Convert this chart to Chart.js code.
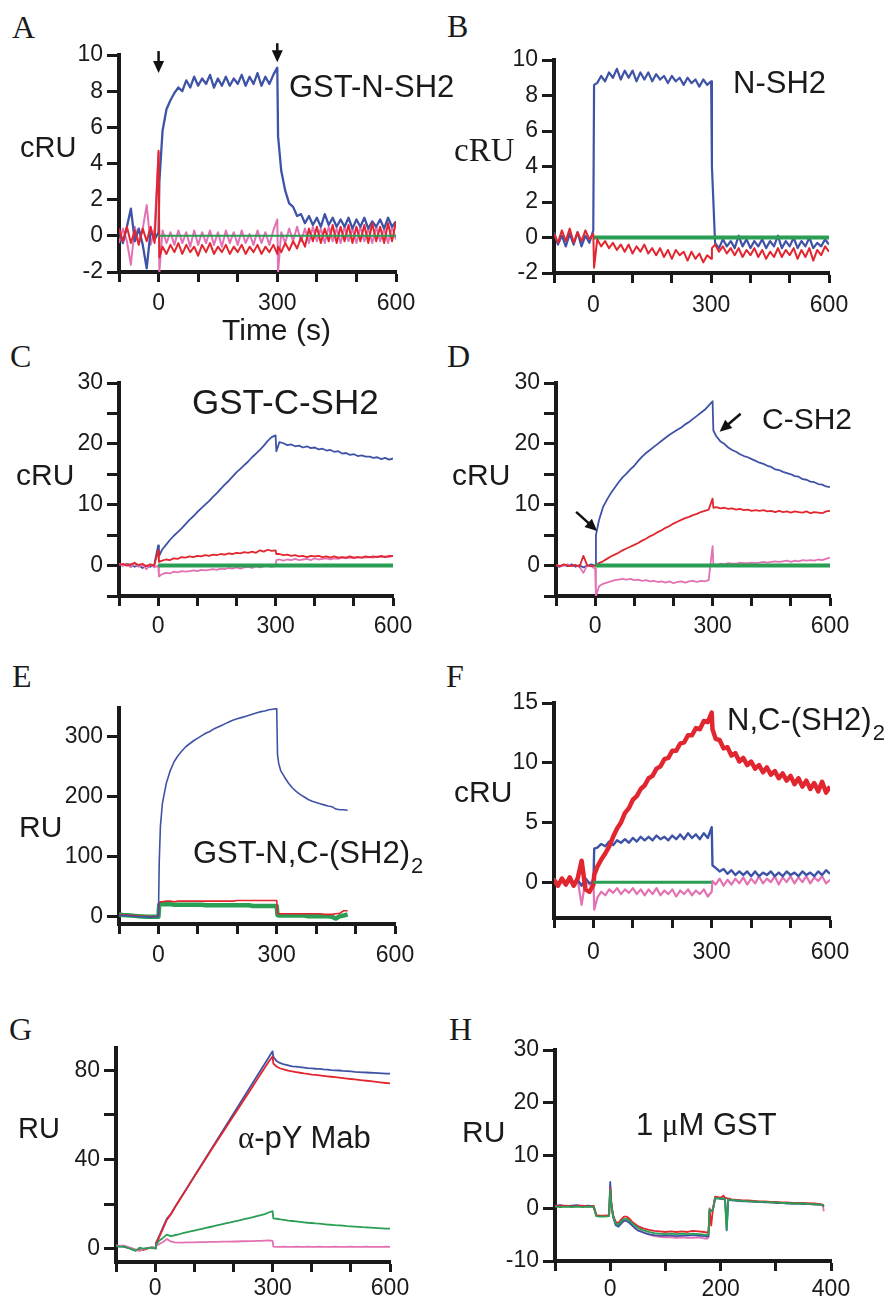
<!DOCTYPE html>
<html>
<head>
<meta charset="utf-8">
<script src="https://cdn.jsdelivr.net/npm/chart.js@4.4.0/dist/chart.umd.min.js"></script>
<style>
  body { margin: 0; background: #fff; width: 888px; height: 1298px; position: relative; overflow: hidden; }
  canvas { position: absolute; }
  .t { position: absolute; white-space: nowrap; line-height: 1; color: #1a1a1a; }
</style>
</head>
<body>
<script>
// ---- axis ticks ----
const xTicks700 = [-100, 0, 100, 200, 300, 400, 500, 600];
const xLabels700 = [0, 300, 600];
const xTicksH = [-100, 0, 100, 200, 300, 400];
const xLabelsH = [0, 200, 400];
const yTicksAB = [-2, 0, 2, 4, 6, 8, 10];
const yTicksCD = [-5, 0, 5, 10, 15, 20, 25, 30];
const yLabelsCD = [0, 10, 20, 30];
const yTicksE = [0, 100, 200, 300];
const yTicksF = [0, 5, 10, 15];
const yTicksG = [0, 20, 40, 60, 80];
const yLabelsG = [0, 40, 80];
const yTicksH = [-10, 0, 10, 20, 30];

// ---- time (s) ----
const tN = [-100,-90,-80,-70,-60,-50,-40,-30,-20,-10,
  0,2,10,20,30,40,50,60,70,80,
  90,100,110,120,130,140,150,160,170,180,
  190,200,210,220,230,240,250,260,270,280,
  290,300,302,310,320,330,340,350,360,370,
  380,390,400,410,420,430,440,450,460,470,
  480,490,500,510,520,530,540,550,560,570,
  580,590,600];
const tE = [-100,-90,-80,-70,-60,-50,-40,-30,-20,-10,
  0,2,5,10,20,30,40,50,60,70,
  80,90,100,110,120,130,140,150,160,170,
  180,190,200,210,220,230,240,250,260,270,
  280,290,300,302,305,310,320,330,340,350,
  360,370,380,390,400,410,420,430,440,450,
  460,470,480];
const tH = [-100,-90,-80,-70,-60,-50,-40,-30,-25,-20,
  -10,-2,0,2,5,10,15,20,25,30,
  35,40,45,50,60,70,80,90,100,110,
  120,130,140,150,160,170,175,178,180,183,
  186,190,195,200,205,208,211,214,217,220,
  230,240,250,260,270,280,290,300,310,320,
  330,340,350,360,370,380,385,387];
const tGreen600 = [0, 600];
const tGreen300 = [0, 300];
const zeroLine = [0, 0];

// ---- A: GST-N-SH2 (cRU) ----
const aBlue = [0.3,-0.4,0.5,1.5,-0.3,0.4,-0.5,-1.8,0.3,-0.2,
  0.2,3.0,5.8,7.0,7.5,7.9,8.2,8.0,8.6,8.2,
  8.8,8.3,8.7,8.4,8.9,8.2,8.7,8.3,8.8,8.3,
  8.7,8.4,8.9,8.3,8.8,8.4,9.0,8.3,8.8,8.4,
  8.9,9.3,5.5,3.6,2.5,1.8,1.6,1.1,1.2,0.7,
  1.1,0.6,1.0,0.5,1.2,0.6,1.0,0.5,0.9,0.5,
  1.0,0.4,0.9,0.5,1.0,0.4,0.8,0.5,0.9,0.4,
  1.0,0.5,0.8];
const aRed = [0.4,-0.3,0.5,-0.4,0.3,-0.5,0.4,-0.3,0.5,-0.4,
  4.7,-1.2,-0.6,-1.0,-0.5,-0.9,-0.4,-1.0,-0.5,-0.9,
  -0.6,-1.1,-0.5,-0.9,-0.4,-1.0,-0.6,-0.9,-0.5,-1.0,
  -0.6,-0.9,-0.5,-1.0,-0.6,-0.9,-0.5,-1.0,-0.6,-0.9,
  -0.5,-1.0,-0.6,-0.9,-0.4,-0.8,-0.3,-0.7,-0.1,-0.6,
  0.4,-0.3,0.5,-0.4,0.4,-0.3,0.6,-0.4,0.5,-0.3,
  0.6,-0.4,0.5,-0.3,0.6,-0.4,0.7,-0.3,0.5,-0.4,
  0.7,-0.3,0.8];
const aPink = [-0.4,0.4,-0.3,-1.6,0.5,-0.4,0.4,1.7,-0.5,0.4,
  4.6,-2.0,0.3,-0.4,0.2,-0.5,0.3,-0.4,0.2,-0.6,
  0.3,-0.5,0.2,-0.4,0.3,-0.5,0.2,-0.6,0.3,-0.4,
  0.2,-0.5,0.3,-0.4,0.1,-0.5,0.3,-0.4,0.2,-0.5,
  0.3,0.9,-2.0,0.2,-0.4,0.4,-0.3,0.5,-0.3,0.4,
  -0.4,0.5,-0.3,0.4,-0.4,0.5,-0.3,0.4,-0.4,0.5,
  -0.3,0.4,-0.4,0.5,-0.3,0.4,-0.4,0.5,-0.3,0.4,
  -0.4,0.5,-0.2];

// ---- B: N-SH2 (cRU) ----
const bBlue = [0.3,-0.4,0.1,-0.5,0.2,-0.4,0.3,-0.5,0.1,-0.3,
  0.4,8.6,8.7,9.1,8.8,9.3,9.0,9.5,8.9,9.4,
  9.0,9.4,8.8,9.3,8.9,9.3,8.8,9.2,8.9,9.1,
  8.7,9.1,8.8,9.0,8.6,9.0,8.7,8.9,8.5,8.9,
  8.6,8.8,4.0,-0.3,-0.6,-0.1,-0.5,-0.2,-0.6,0.1,
  -0.5,-0.1,-0.6,-0.2,-0.5,-0.1,-0.6,-0.2,-0.5,0.1,
  -0.6,-0.2,-0.5,0.0,-0.6,-0.2,-0.5,0.0,-0.6,-0.3,
  -0.5,-0.1,-0.4];
const bRed = [0.2,-0.3,0.4,-0.2,0.5,-0.3,0.3,-0.2,0.4,-0.1,
  0.2,-1.7,-0.1,-0.5,-0.2,-0.6,-0.3,-0.7,-0.4,-0.8,
  -0.4,-0.9,-0.5,-0.8,-0.4,-0.9,-0.6,-1.0,-0.6,-1.1,
  -0.7,-1.2,-0.7,-1.0,-0.8,-1.3,-0.8,-1.2,-0.9,-1.4,
  -1.0,-1.2,-0.6,-0.4,-0.8,-0.5,-0.9,-0.6,-1.0,-0.6,
  -1.1,-0.7,-1.0,-0.6,-1.1,-0.7,-1.2,-0.8,-1.1,-0.6,
  -1.1,-0.7,-1.0,-0.6,-1.2,-0.7,-1.1,-0.6,-1.3,-0.7,
  -1.0,-0.5,-0.8];

// ---- C: GST-C-SH2 (cRU) ----
const cBlue = [0.2,0.0,0.3,0.1,-0.2,0.1,-0.4,0.0,-0.2,0.1,
  3.3,1.5,2.6,3.4,4.2,4.9,5.5,6.1,6.8,7.5,
  8.1,8.8,9.4,10.0,10.6,11.3,11.9,12.6,13.3,13.9,
  14.6,15.3,15.9,16.5,17.1,17.8,18.4,19.0,19.7,20.5,
  21.1,21.4,18.8,20.3,20.1,19.8,19.9,19.6,19.7,19.4,
  19.6,19.3,19.4,19.1,19.2,18.9,19.0,18.7,18.8,18.4,
  18.5,18.2,18.3,18.0,18.1,17.9,17.9,17.7,17.8,17.5,
  17.7,17.4,17.6];
const cRed = [0.1,0.3,0.0,0.2,0.4,0.1,0.3,-0.1,0.2,0.0,
  2.5,0.6,0.8,1.0,0.9,1.2,1.1,1.4,1.3,1.5,
  1.4,1.6,1.5,1.7,1.6,1.8,1.7,1.9,1.8,2.0,
  1.9,2.1,2.0,2.2,2.1,2.3,2.1,2.5,2.3,2.6,
  2.4,2.5,1.9,1.9,1.7,1.8,1.6,1.7,1.5,1.6,
  1.4,1.6,1.5,1.6,1.4,1.5,1.3,1.5,1.3,1.4,
  1.3,1.5,1.3,1.4,1.3,1.5,1.4,1.5,1.4,1.6,
  1.4,1.6,1.6];
const cPink = [0.3,0.0,0.2,-0.3,0.5,-0.2,0.1,-0.6,0.2,-0.3,
  0.0,-1.8,-1.4,-1.2,-1.3,-1.0,-1.1,-0.9,-1.0,-0.9,
  -0.8,-0.9,-0.7,-0.8,-0.7,-0.6,-0.7,-0.5,-0.6,-0.4,
  -0.5,-0.3,-0.5,-0.3,-0.2,-0.4,-0.1,-0.3,-0.1,0.0,
  -0.2,-0.1,0.9,1.0,0.8,1.0,0.9,1.1,0.9,1.0,
  1.1,0.9,1.2,1.0,1.1,1.2,1.0,1.2,1.1,1.3,
  1.2,1.3,1.2,1.4,1.3,1.3,1.4,1.3,1.5,1.4,
  1.5,1.4,1.6];

// ---- D: C-SH2 (cRU) ----
const dBlue = [0.0,-0.2,0.1,-0.1,0.2,-0.2,0.1,-0.3,0.0,0.2,
  0.0,5.0,7.5,9.6,10.8,11.9,12.8,13.7,14.5,15.1,
  15.8,16.4,17.2,17.9,18.5,19.0,19.5,20.0,20.5,21.0,
  21.5,21.9,22.3,22.7,23.2,23.6,24.1,24.6,25.1,25.6,
  26.3,27.0,22.2,21.2,20.4,20.0,19.4,19.0,18.7,18.3,
  18.0,17.8,17.5,17.2,16.9,16.7,16.4,16.2,15.8,15.7,
  15.4,15.2,15.0,14.7,14.6,14.2,14.1,13.8,13.7,13.4,
  13.3,13.0,12.9];
const dRed = [0.1,-0.1,0.2,0.0,-0.1,0.1,-0.2,1.6,0.0,-0.1,
  0.0,0.1,0.4,0.7,1.1,1.5,1.8,2.1,2.5,2.8,
  3.1,3.4,3.7,4.1,4.4,4.8,5.1,5.5,5.8,6.2,
  6.5,6.9,7.2,7.5,7.8,8.0,8.3,8.5,8.8,9.0,
  9.2,11.0,9.5,9.6,9.4,9.5,9.3,9.4,9.2,9.3,
  9.1,9.2,9.0,9.1,9.0,9.1,8.9,9.0,8.8,9.0,
  8.8,8.9,8.7,8.9,8.8,8.7,8.9,8.6,8.8,8.7,
  8.6,8.9,9.0];
const dPink = [0.1,-0.1,0.0,0.2,-0.1,0.1,-0.2,-1.2,0.1,-0.1,
  -0.5,-5.0,-3.4,-3.0,-2.8,-2.6,-2.4,-2.3,-2.2,-2.3,
  -2.2,-2.4,-2.3,-2.5,-2.4,-2.6,-2.5,-2.7,-2.6,-2.8,
  -2.6,-2.9,-2.7,-2.6,-2.8,-2.6,-2.5,-2.7,-2.5,-2.6,
  -2.4,3.2,0.2,0.1,0.3,0.2,0.4,0.3,0.3,0.5,
  0.4,0.4,0.5,0.4,0.5,0.6,0.5,0.6,0.7,0.6,
  0.7,0.8,0.6,0.8,0.7,0.9,0.8,0.9,0.8,1.0,
  0.9,1.1,1.3];

// ---- E: GST-N,C-(SH2)2 (RU) ----
const eBlue = [3,2,2,1,1,0,0,0,-1,0,
  0,90,150,188,222,243,258,268,276,283,
  288,293,297,301,305,308,312,315,318,321,
  324,327,329,331,333,335,337,339,341,342,
  344,345,346,270,255,243,232,222,214,208,
  203,199,195,192,190,188,186,184,183,179,
  178,178,177];
const eRed = [4,3,3,2,2,1,1,1,0,1,
  1,23,25,25,26,26,25,26,26,26,
  26,26,26,26,26,26,26,26,26,26,
  26,26,27,27,27,27,27,27,27,27,
  27,27,27,6,5,5,5,5,5,5,
  5,5,5,5,5,5,4,4,4,5,
  6,10,10];
const eGreen = [4,3,2.5,2,1.5,1,0.5,0,0,0,
  0,20,22,21,21,21,20,20,20,20,
  20,20,20,20,19,19,19,19,19,19,
  19,19,19,19,19,19,18,18,18,18,
  18,18,18,3,2,2,2,2,2,2,
  2,2,1,1,1,1,1,1,0,-3,
  1,2,4];

// ---- F: N,C-(SH2)2 (cRU) ----
const fRed = [0.2,-0.3,0.3,-0.2,0.4,-0.3,0.3,1.8,-0.6,-0.8,
  -0.2,0.6,1.3,1.9,2.4,3.0,3.8,4.5,5.0,5.8,
  6.2,6.9,7.2,7.8,8.1,8.7,8.9,9.5,9.7,10.3,
  10.4,11.0,11.0,11.6,11.7,12.3,12.3,12.9,12.8,13.5,
  13.4,14.2,12.8,12.0,11.9,11.2,11.3,10.6,10.8,10.1,
  10.4,9.8,10.1,9.5,9.8,9.2,9.6,9.0,9.3,8.7,
  9.1,8.5,8.9,8.2,8.7,8.0,8.5,7.8,8.3,7.6,
  8.4,7.5,8.0];
const fBlue = [0.2,-0.3,0.1,-0.2,0.3,-0.1,0.2,-0.3,0.3,-0.1,
  0.0,2.8,2.9,3.2,3.0,3.4,3.1,3.5,3.3,3.6,
  3.3,3.7,3.4,3.8,3.5,3.8,3.5,3.9,3.6,3.8,
  3.5,3.9,3.6,4.0,3.6,4.1,3.7,4.0,3.6,4.1,
  3.7,4.6,1.4,1.2,0.9,1.1,0.7,1.0,0.6,0.9,
  0.6,0.9,0.5,0.9,0.5,0.8,0.6,0.9,0.5,0.8,
  0.5,0.9,0.6,0.8,0.5,0.9,0.6,0.8,0.5,0.9,
  0.6,1.0,0.7];
const fPink = [0.3,-0.2,0.2,-0.3,0.3,-0.2,0.2,-1.9,0.2,-0.2,
  0.3,-2.3,-1.3,-0.8,-1.1,-0.6,-0.9,-0.5,-1.0,-0.6,
  -0.9,-0.5,-1.0,-0.6,-1.1,-0.6,-1.0,-0.5,-1.1,-0.7,
  -1.0,-0.6,-1.2,-0.7,-1.0,-0.6,-1.1,-0.7,-1.0,-0.6,
  -1.2,-0.8,0.1,-0.2,0.3,-0.3,0.2,-0.2,0.3,-0.1,
  0.4,-0.2,0.3,-0.1,0.5,-0.1,0.3,0.0,0.5,-0.2,
  0.4,0.0,0.5,-0.1,0.4,0.0,0.5,-0.1,0.4,0.1,
  0.5,-0.1,0.2];

// ---- G: alpha-pY Mab (RU) ----
const gBlue = [1.0,1.2,0.8,0.5,-0.3,-0.5,-0.8,-0.5,0.2,0.3,
  0.5,2.5,5.5,9.5,13.5,15.5,18.5,21.3,24.1,26.9,
  29.7,32.5,35.3,38.1,40.9,43.7,46.5,49.3,52.1,54.9,
  57.7,60.5,63.3,66.1,68.9,71.7,74.5,77.3,80.1,82.9,
  85.7,88.5,86.0,84.2,83.2,82.6,82.2,81.8,81.6,81.4,
  81.2,81.0,80.9,80.7,80.6,80.4,80.3,80.1,80.0,79.9,
  79.7,79.6,79.5,79.3,79.2,79.1,79.0,78.9,78.8,78.7,
  78.6,78.5,78.5];
const gRed = [1.5,1.0,1.2,0.4,0.0,-0.8,-0.4,-0.6,0.0,0.5,
  0.3,2.2,5.0,9.0,13.0,15.3,18.3,21.1,23.9,26.7,
  29.5,32.3,35.0,37.8,40.5,43.3,46.0,48.7,51.4,54.1,
  56.8,59.5,62.2,64.9,67.6,70.3,73.0,75.7,78.4,81.1,
  83.8,86.2,83.0,81.7,80.8,80.3,79.8,79.5,79.2,78.9,
  78.6,78.4,78.1,77.9,77.7,77.5,77.3,77.1,76.9,76.7,
  76.5,76.3,76.1,75.9,75.7,75.5,75.3,75.1,74.9,74.7,
  74.5,74.3,74.1];
const gGreen = [1.2,0.8,1.0,0.3,-0.2,-1.0,0.4,0.0,0.2,0.4,
  0.0,1.5,3.5,4.8,6.3,5.6,6.0,6.4,6.9,7.3,
  7.7,8.1,8.5,8.9,9.3,9.7,10.1,10.5,10.9,11.3,
  11.7,12.1,12.5,12.9,13.3,13.7,14.1,14.6,15.0,15.5,
  16.2,16.8,13.6,13.4,13.1,12.9,12.6,12.4,12.2,12.0,
  11.8,11.6,11.5,11.3,11.2,11.0,10.8,10.7,10.5,10.4,
  10.3,10.1,10.0,9.9,9.8,9.6,9.5,9.4,9.3,9.2,
  9.1,9.0,9.0];
const gPink = [1.5,1.2,1.3,0.8,0.2,-0.5,-1.0,-0.2,0.3,0.5,
  0.3,1.2,2.0,3.0,4.3,3.2,2.8,2.7,2.7,2.8,
  2.8,2.8,2.9,2.9,2.9,3.0,3.0,3.0,3.1,3.1,
  3.1,3.2,3.2,3.3,3.3,3.4,3.4,3.5,3.5,3.6,
  3.7,3.5,0.9,0.8,0.8,0.9,0.8,0.8,0.9,0.8,
  0.8,0.9,0.8,0.8,0.9,0.8,0.8,0.8,0.9,0.8,
  0.8,0.8,0.9,0.8,0.8,0.8,0.9,0.8,0.8,0.8,
  0.8,0.9,0.8];

// ---- H: 1 uM GST (RU) ----
const hRed = [0.5,0.4,0.5,0.3,0.4,0.5,0.3,0.4,-1.3,-1.4,
  -1.4,-1.3,3.8,0.8,-1.2,-2.6,-2.8,-2.1,-1.6,-1.6,
  -2.0,-2.6,-3.0,-3.4,-3.8,-4.1,-4.3,-4.4,-4.5,-4.4,
  -4.5,-4.4,-4.5,-4.3,-4.4,-4.5,-4.6,-4.4,-0.3,-3.3,
  -0.2,2.2,2.1,2.0,2.4,2.0,1.9,1.8,1.8,1.7,
  1.6,1.5,1.5,1.4,1.3,1.3,1.2,1.2,1.1,1.1,
  1.0,1.0,1.0,0.9,0.9,0.8,0.7,0.5];
const hGreen = [0.3,0.2,0.3,0.2,0.3,0.2,0.3,0.2,-1.5,-1.6,
  -1.6,-1.5,3.5,0.7,-1.4,-2.9,-3.1,-2.5,-2.0,-2.0,
  -2.4,-2.9,-3.3,-3.7,-4.2,-4.5,-4.7,-4.8,-4.9,-4.8,
  -4.9,-4.8,-4.9,-4.8,-4.9,-5.0,-5.1,-4.9,-0.2,-0.5,
  -0.3,1.9,1.9,1.8,1.9,1.8,-4.0,1.7,1.6,1.6,
  1.5,1.4,1.3,1.3,1.2,1.2,1.1,1.1,1.0,1.0,
  0.9,0.9,0.9,0.8,0.8,0.7,0.6,0.4];
const hBlue = [0.5,0.6,0.4,0.5,0.6,0.4,0.5,0.4,-1.4,-1.5,
  -1.5,-1.4,5.0,1.2,-1.6,-3.2,-3.5,-2.9,-2.4,-2.4,
  -2.8,-3.3,-3.8,-4.2,-4.6,-4.9,-5.1,-5.2,-5.2,-5.2,
  -5.3,-5.2,-5.2,-5.1,-5.2,-5.3,-5.4,-5.3,-0.6,-0.5,
  -0.4,1.8,1.9,1.8,1.8,1.7,-4.2,1.7,1.6,1.5,
  1.4,1.3,1.3,1.2,1.2,1.1,1.1,1.0,1.0,0.9,
  0.9,0.9,0.8,0.8,0.7,0.7,0.6,0.3];
const hPink = [0.4,0.5,0.3,0.4,0.5,0.3,0.4,0.3,-1.4,-1.5,
  -1.5,-1.4,4.3,1.0,-1.5,-3.0,-3.3,-2.7,-2.3,-2.3,
  -2.7,-3.2,-3.7,-4.1,-4.6,-5.0,-5.3,-5.4,-5.5,-5.5,
  -5.6,-5.5,-5.6,-5.6,-5.5,-5.7,-5.8,-5.6,0.0,-0.4,
  -0.3,2.0,1.9,1.8,1.7,1.8,-2.3,1.8,1.7,1.6,
  1.5,1.4,1.4,1.3,1.2,1.2,1.1,1.1,1.0,1.0,
  0.9,0.9,0.8,0.9,0.8,0.7,0.6,-0.6];

const BLUE = '#3f53a6', RED = '#e2262f', PINK = '#e272b3', GREEN = '#2a9e55';
const SANS = '"Liberation Sans", Arial, sans-serif';
const SERIF = '"Liberation Serif", "Times New Roman", serif';

function pts(ts, vs) { return ts.map((t, i) => ({ x: t, y: vs[i] })); }
function s(t, v, c, w) { return { t, v, c, w }; }

// arrows pointing at a data position; tail offset in pixels
const arrowPlugin = {
  id: 'arrows',
  afterDraw(chart, args, opts) {
    const ctx = chart.ctx, xs = chart.scales.x, ys = chart.scales.y;
    (opts.list || []).forEach(a => {
      const x1 = xs.getPixelForValue(a.x), y1 = ys.getPixelForValue(a.y);
      const x0 = x1 + a.dx, y0 = y1 + a.dy;
      const ang = Math.atan2(y1 - y0, x1 - x0), hl = 12, hw = 5.5;
      ctx.save();
      ctx.strokeStyle = '#111'; ctx.fillStyle = '#111'; ctx.lineWidth = 2.5;
      ctx.beginPath(); ctx.moveTo(x0, y0);
      ctx.lineTo(x1 - Math.cos(ang) * hl * 0.8, y1 - Math.sin(ang) * hl * 0.8); ctx.stroke();
      ctx.beginPath(); ctx.moveTo(x1, y1);
      ctx.lineTo(x1 - Math.cos(ang) * hl - Math.sin(ang) * hw, y1 - Math.sin(ang) * hl + Math.cos(ang) * hw);
      ctx.lineTo(x1 - Math.cos(ang) * hl + Math.sin(ang) * hw, y1 - Math.sin(ang) * hl - Math.cos(ang) * hw);
      ctx.closePath(); ctx.fill();
      ctx.restore();
    });
  }
};

function axis(range, ticks, labels, dir, pad) {
  return {
    type: 'linear', min: range[0], max: range[1],
    afterBuildTicks: sc => { sc.ticks = ticks.map(v => ({ value: v })); },
    afterFit: sc => { if (dir === 'x') sc.height = 50; else sc.width = 60; },
    ticks: {
      autoSkip: false, maxRotation: 0, padding: pad, color: '#1a1a1a',
      font: { family: SANS, size: 23 },
      callback: v => labels.includes(v) ? String(v) : ''
    },
    grid: { drawOnChartArea: false, drawTicks: true, tickLength: dir === 'x' ? 10 : 12, tickWidth: 3, tickColor: '#1a1a1a' },
    border: { display: true, color: '#1a1a1a', width: 4 }
  };
}

const panels = [
  { ax: 119, right: 396, top: 55, bottom: 272, x: [-100, 600], y: [-2, 10], xpad: 8,
    xt: xTicks700, xl: xLabels700, yt: yTicksAB, yl: yTicksAB,
    series: [s(tGreen600, zeroLine, GREEN, 2), s(tN, aRed, RED, 2), s(tN, aBlue, BLUE, 2.3), s(tN, aPink, PINK, 2)],
    arrows: [{ x: 0, y: 9.0, dx: 0, dy: -22 }, { x: 300, y: 9.6, dx: 0, dy: -19 }] },
  { ax: 554, right: 829, top: 60, bottom: 273, x: [-100, 600], y: [-2, 10], xpad: 9,
    xt: xTicks700, xl: xLabels700, yt: yTicksAB, yl: yTicksAB,
    series: [s(tN, bRed, RED, 2), s(tGreen600, zeroLine, GREEN, 4), s(tN, bBlue, BLUE, 2.2)] },
  { ax: 119, right: 393, top: 383, bottom: 596, x: [-100, 600], y: [-5, 30], xpad: 7,
    xt: xTicks700, xl: xLabels700, yt: yTicksCD, yl: yLabelsCD,
    series: [s(tGreen600, zeroLine, GREEN, 4), s(tN, cRed, RED, 1.8), s(tN, cPink, PINK, 1.8), s(tN, cBlue, BLUE, 1.8)] },
  { ax: 556, right: 830, top: 383, bottom: 596, x: [-100, 600], y: [-5, 30], xpad: 7,
    xt: xTicks700, xl: xLabels700, yt: yTicksCD, yl: yLabelsCD,
    series: [s(tGreen600, zeroLine, GREEN, 4), s(tN, dRed, RED, 1.8), s(tN, dPink, PINK, 1.8), s(tN, dBlue, BLUE, 1.8)],
    arrows: [{ x: 5, y: 5.7, dx: -21, dy: -19 }, { x: 318, y: 22, dx: 21, dy: -18 }] },
  { ax: 119, right: 395, top: 708, bottom: 924, x: [-100, 600], y: [-12, 347], xpad: 8,
    xt: xTicks700, xl: xLabels700, yt: yTicksE, yl: yTicksE,
    series: [s(tE, eBlue, BLUE, 1.6), s(tE, eRed, RED, 1.6), s(tE, eGreen, GREEN, 4.5)] },
  { ax: 554, right: 830, top: 703, bottom: 918, x: [-100, 600], y: [-3, 15], xpad: 11,
    xt: xTicks700, xl: xLabels700, yt: yTicksF, yl: yTicksF,
    series: [s(tGreen300, zeroLine, GREEN, 3), s(tN, fRed, RED, 4.5), s(tN, fBlue, BLUE, 2.4), s(tN, fPink, PINK, 2.2)] },
  { ax: 116, right: 390, top: 1048, bottom: 1262, x: [-100, 600], y: [-6, 90], xpad: 3,
    xt: xTicks700, xl: xLabels700, yt: yTicksG, yl: yLabelsG,
    series: [s(tN, gGreen, GREEN, 1.8), s(tN, gPink, PINK, 1.8), s(tN, gRed, RED, 1.8), s(tN, gBlue, BLUE, 1.8)] },
  { ax: 555, right: 831, top: 1050, bottom: 1261, x: [-100, 400], y: [-10, 30], xpad: 5,
    xt: xTicksH, xl: xLabelsH, yt: yTicksH, yl: yTicksH,
    series: [s(tH, hGreen, GREEN, 1.8), s(tH, hRed, RED, 1.8), s(tH, hBlue, BLUE, 1.8), s(tH, hPink, PINK, 1.8)] }
];

panels.forEach(p => {
  const cv = document.createElement('canvas');
  const W = p.right - p.ax + 100, H = p.bottom - p.top + 70;
  cv.width = W; cv.height = H;
  cv.style.left = (p.ax - 60) + 'px'; cv.style.top = (p.top - 20) + 'px';
  cv.style.width = W + 'px'; cv.style.height = H + 'px';
  document.body.appendChild(cv);
  new Chart(cv, {
    type: 'line',
    data: { datasets: p.series.map(d => ({
      data: pts(d.t, d.v), borderColor: d.c, borderWidth: d.w,
      pointRadius: 0, tension: 0, fill: false, borderJoinStyle: 'round'
    })) },
    options: {
      responsive: false, animation: false, devicePixelRatio: 1,
      layout: { padding: { left: 0, top: 20, right: 40, bottom: 0 } },
      plugins: { legend: { display: false }, tooltip: { enabled: false }, arrows: { list: p.arrows || [] } },
      scales: { x: axis(p.x, p.xt, p.xl, 'x', p.xpad), y: axis(p.y, p.yt, p.yl, 'y', 4) }
    },
    plugins: [arrowPlugin]
  });
});

// ---- text ----
function txt(html, x, base, size, fam) {
  const d = document.createElement('div');
  d.className = 't';
  d.style.left = x + 'px';
  d.style.top = (base - size * 0.85) + 'px';
  d.style.fontSize = size + 'px';
  d.style.fontFamily = fam;
  d.innerHTML = html;
  document.body.appendChild(d);
}
const SUB2 = '<span style="font-size:22px;position:relative;top:10px;margin-left:1px">2</span>';
const GREEK = 'font-family:\'Liberation Serif\', serif';

[['A', 12, 38], ['B', 447, 37], ['C', 10, 367], ['D', 447, 367],
 ['E', 12, 687], ['F', 446, 687], ['G', 9, 1040], ['H', 449, 1040]]
  .forEach(l => txt(l[0], l[1], l[2], 32, SERIF));

txt('cRU', 20, 158, 29, SANS);
txt('cRU', 454, 162, 33, SERIF);
txt('cRU', 16, 485, 30, SANS);
txt('cRU', 452, 485, 30, SANS);
txt('RU', 19, 837, 30, SANS);
txt('cRU', 454, 802, 30, SANS);
txt('RU', 18, 1139, 29, SANS);
txt('RU', 462, 1142, 30, SANS);
txt('Time (s)', 222, 340, 30, SANS);

txt('GST-N-SH2', 289, 97, 31, SANS);
txt('N-SH2', 733, 93, 31, SANS);
txt('GST-C-SH2', 192, 414, 35, SANS);
txt('C-SH2', 762, 429, 30, SANS);
txt('GST-N,C-(SH2)' + SUB2, 193, 863, 31, SANS);
txt('N,C-(SH2)' + SUB2, 727, 730, 31, SANS);
txt('<span style="' + GREEK + '">&alpha;</span>-pY Mab', 238, 1148, 31, SANS);
txt('1 <span style="' + GREEK + '">&mu;</span>M GST', 636, 1135, 31, SANS);
</script>
</body>
</html>
